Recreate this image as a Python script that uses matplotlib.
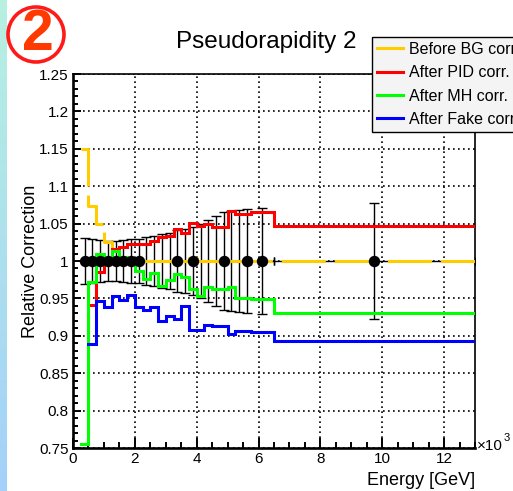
import numpy as np
import matplotlib
matplotlib.use('Agg')
import matplotlib.pyplot as plt
from matplotlib.patches import Ellipse
from matplotlib.lines import Line2D

plt.rcParams['font.family'] = ['Liberation Sans', 'DejaVu Sans']
plt.rcParams['lines.scale_dashes'] = False

# ---------------- data ----------------
edges = [0.25, 0.5, 0.75, 1.0, 1.25, 1.5, 1.75, 2.0, 2.25, 2.5, 2.75, 3.0,
         3.25, 3.5, 3.75, 4.0, 4.25, 4.5, 4.75, 5.0, 5.25, 5.5, 5.75, 6.5, 13.0]
nan = np.nan
before_bg = [1.150, 1.074, 1.050, 1.025, 1.013, 1.005, 1.002, 1.000, 1.000, 1.000,
             1.000, 1.000, 1.000, 1.000, 1.004, 1.000, 1.000, 1.000, 1.000, 1.000,
             1.000, 1.000, 1.000, 1.000]
after_pid = [nan, 0.941, 0.985, 1.003, 1.016, 1.019, 1.023, 1.023, 1.023, 1.027,
             1.032, 1.034, 1.043, 1.038, 1.051, 1.047, 1.050, 1.045, 1.045, 1.067,
             1.063, 1.063, 1.065, 1.047]
after_mh = [0.755, 0.972, 1.010, 0.998, 1.014, 1.005, 1.003, 0.987, 0.976, 0.984,
            0.967, 0.974, 0.983, 0.978, 0.963, 0.953, 0.965, 0.963, 0.963, 0.965,
            0.951, 0.951, 0.949, 0.931]
after_fake = [nan, 0.889, 0.946, 0.939, 0.953, 0.948, 0.954, 0.938, 0.934, 0.938,
              0.920, 0.926, 0.923, 0.940, 0.908, 0.908, 0.915, 0.913, 0.913, 0.902,
              0.907, 0.907, 0.905, 0.893]
ref_value = [1.0] * 24
ref_error = [0.031, 0.030, 0.028, 0.027, 0.027, 0.028, 0.029, 0.030, 0.032, 0.034,
             0.036, 0.038, 0.041, 0.043, 0.046, 0.050, 0.055, 0.060, 0.065, 0.067,
             0.068, 0.069, 0.071, 0.078]
ref_marker = [1, 1, 1, 1, 1, 1, 1, 1, 0, 0, 0, 0, 1, 0, 1, 0, 0, 0, 1, 0, 0, 1, 1, 1]

labels = ['Before BG corr.', 'After PID corr.', 'After MH corr.', 'After Fake corr.']
colors = ['#ffcc00', '#ff0000', '#00ff00', '#0000ff']
series = [before_bg, after_pid, after_mh, after_fake]

# ---------------- figure ----------------
W, H = 513, 491
fig = plt.figure(figsize=(W / 100, H / 100), dpi=100)
fig.patch.set_facecolor('white')

# left gradient strip
sax = fig.add_axes([0, 0, 7 / W, 1])
grad = np.linspace(0, 1, 256)[:, None]
c_top = np.array([0.72, 0.94, 0.88])
c_bot = np.array([0.64, 0.82, 0.98])
img = c_top[None, None, :] * (1 - grad[:, :, None]) + c_bot[None, None, :] * grad[:, :, None]
sax.imshow(img, aspect='auto', extent=[0, 1, 0, 1])
sax.axis('off')

x0, x1, yt, yb = 73, 475, 74, 448
ax = fig.add_axes([x0 / W, 1 - yb / H, (x1 - x0) / W, (yb - yt) / H])

e = np.array(edges)
centers = 0.5 * (e[:-1] + e[1:])
halfw = 0.5 * (e[1:] - e[:-1])
val = np.array(ref_value)
err = np.array(ref_error)
mask = np.array(ref_marker, dtype=bool)

# reference points (black)
ax.errorbar(centers, val, yerr=err, fmt='none', ecolor='black', elinewidth=1.0,
            capsize=3.6, capthick=1.0, zorder=3)
narrow = halfw < 0.2
ax.errorbar(centers[narrow], val[narrow], xerr=halfw[narrow], fmt='none', ecolor='black',
            elinewidth=1.0, capsize=0, zorder=3)
ax.errorbar(centers[~narrow], val[~narrow], xerr=halfw[~narrow], fmt='none', ecolor='black',
            elinewidth=1.0, capsize=3.2, capthick=1.0, zorder=3)

handles = []
for i, (s, c, lab) in enumerate(zip(series, colors, labels)):
    y = np.append(np.array(s, dtype=float), s[-1])
    ls = (0, (31.7, 6.5)) if i == 0 else '-'
    ax.step(e, y, where='post', color=c, lw=2.2, linestyle=ls, zorder=4 + i,
            solid_joinstyle='miter')
    handles.append(Line2D([], [], color=c, lw=2.2))

ax.plot(centers[mask], val[mask], 'o', color='black', ms=7.2, zorder=9)

ax.set_xlim(0, 13)
ax.set_ylim(0.75, 1.25)
ax.set_xticks(np.arange(0, 13, 2))
ax.set_xticklabels([str(v) for v in range(0, 13, 2)])
ax.set_xticks(np.arange(0, 13.01, 0.5), minor=True)
yt_major = np.round(np.arange(0.75, 1.2501, 0.05), 2)
ax.set_yticks(yt_major)
ax.set_yticklabels([('%g' % v) for v in yt_major])
ax.set_yticks(np.arange(0.75, 1.2501, 0.01), minor=True)

ax.tick_params(axis='both', which='both', direction='in', top=False, right=False,
               labelsize=11, width=1.4, colors='black')
ax.tick_params(axis='x', which='major', length=7.5, pad=3)
ax.tick_params(axis='x', which='minor', length=4)
ax.tick_params(axis='y', which='major', length=6, pad=3.2)
ax.tick_params(axis='y', which='minor', length=3.5)

ax.grid(True, which='major', color='black', lw=1.2, linestyle=(0, (1.2, 2.4)), zorder=1)
ax.set_axisbelow(True)
for side in ['left', 'bottom']:
    ax.spines[side].set_linewidth(1.9)
for side in ['top', 'right']:
    ax.spines[side].set_linewidth(1.2)

ax.set_xlabel('Energy [GeV]', fontsize=13, loc='right')
ax.xaxis.set_label_coords(1.0, -(472 - yb) / (yb - yt))
ax.xaxis.label.set_va('top')
ax.set_ylabel('Relative Correction', fontsize=13)
ax.yaxis.set_label_coords((39 - x0) / (x1 - x0), 0.5)

fig.text(477 / W, 1 - 450 / H, '\u00d710', fontsize=11, ha='left', va='baseline')
fig.text(503.5 / W, 1 - 441 / H, '3', fontsize=8, ha='left', va='baseline')

fig.text(266.5 / W, 1 - 42 / H, 'Pseudorapidity 2', fontsize=17.5, ha='center', va='center')

leg = ax.legend(handles, labels, loc='upper left', bbox_to_anchor=(372 / W, 1 - 37 / H),
                bbox_transform=fig.transFigure, fontsize=11.5, frameon=True, fancybox=False,
                borderpad=0.31, handlelength=1.63, handletextpad=0.375, labelspacing=0.52,
                borderaxespad=0)
leg.get_frame().set_edgecolor('black')
leg.get_frame().set_linewidth(1.0)
leg.get_frame().set_facecolor('#f4f4f4')
leg.get_frame().set_alpha(1)
leg.set_zorder(20)

# circled number
fig.add_artist(Ellipse((36 / W, 1 - 34.5 / H), width=56 / W, height=55 / H,
                       transform=fig.transFigure, fill=False, ec='#ff1a1a', lw=2.6))
fig.text(38 / W, 1 - 35 / H, '2', fontsize=41, fontweight='bold', color='#ff3a00',
         ha='center', va='center')

fig.savefig('out.png', dpi=100)
